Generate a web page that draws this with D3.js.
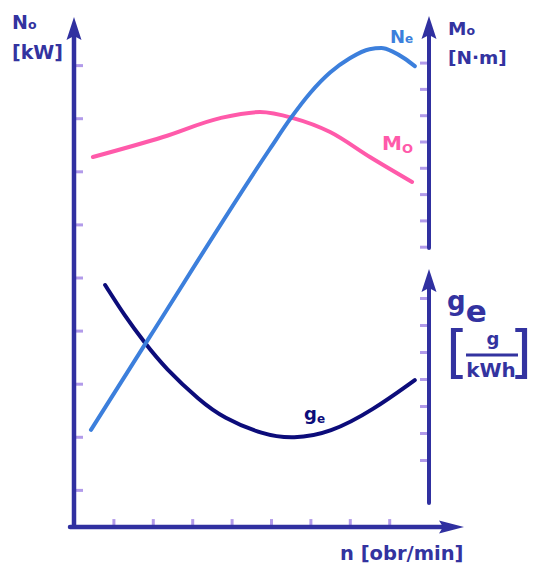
<!DOCTYPE html>
<html>
<head>
<meta charset="utf-8">
<script src="https://cdn.jsdelivr.net/npm/d3@7/dist/d3.min.js"></script>
<style>
  html, body { margin: 0; padding: 0; background: #fff; }
  svg { display: block; }
  text { font-family: "DejaVu Sans", Verdana, sans-serif; }
</style>
</head>
<body>
<svg id="chart" width="533" height="565"></svg>
<script>
// ---- data (scale units) ----
const nTicksX = [1, 2, 3, 4, 5, 6, 7, 8];
const powerTicks = [1, 2, 3, 4, 5, 6, 7, 8, 9];
const torqueTicks = [1, 2, 3, 4, 5, 6, 7, 8];
const fuelTicks = [2, 3, 4, 5, 6, 7, 8];

const neX = [0.43, 1.93, 4.97, 5.5, 6.0, 6.5, 7.0, 7.5, 7.8, 8.1, 8.4, 8.65];
const neY = [2.13, 3.89, 7.42, 8.0, 8.48, 8.86, 9.13, 9.30, 9.32, 9.25, 9.12, 8.98];

const moX = [0.48, 2.26, 3.71, 4.72, 5.56, 6.50, 7.51, 8.58];
const moY = [4.41, 5.17, 5.89, 6.12, 5.89, 5.36, 4.41, 3.46];

const geX = [0.79, 1.29, 1.80, 2.31, 3.20, 3.78, 4.80, 5.56, 6.50, 7.59, 8.65];
const geY = [8.48, 7.33, 6.33, 5.41, 4.19, 3.57, 2.93, 2.78, 3.00, 3.85, 4.96];

// ---- scales ----
const x = d3.scaleLinear().domain([0, 10]).range([74, 468]);
const yN = d3.scaleLinear().domain([0, 10]).range([543, 12]);
const yM = d3.scaleLinear().domain([0, 10]).range([273, 10]);
const yG = d3.scaleLinear().domain([0, 10]).range([514, 244]);

const AX = "#3030a0";
const TICK = "#a48ae6";
const svg = d3.select("#chart");

const rightX = 429;

function arrowUp(cx, tipY) {
  return `M${cx},${tipY} L${cx + 7.5},${tipY + 23} L${cx},${tipY + 19} L${cx - 7.5},${tipY + 23} Z`;
}
function arrowRight(tipX, cy) {
  return `M${tipX},${cy} L${tipX - 25},${cy - 6.5} L${tipX - 21},${cy} L${tipX - 25},${cy + 6.5} Z`;
}

// tick marks via d3 axes
const gl = svg.append("g").attr("transform", `translate(76,0)`)
  .call(d3.axisRight(yN).tickValues(powerTicks).tickSize(7).tickFormat(""));
const gx = svg.append("g").attr("transform", `translate(0,${yN(0.3) - 2})`)
  .call(d3.axisTop(x).tickValues(nTicksX).tickSize(6).tickFormat(""));
const gm = svg.append("g").attr("transform", `translate(${rightX - 2},0)`)
  .call(d3.axisLeft(yM).tickValues(torqueTicks).tickSize(7).tickFormat(""));
const gg = svg.append("g").attr("transform", `translate(${rightX - 2},0)`)
  .call(d3.axisLeft(yG).tickValues(fuelTicks).tickSize(7).tickFormat(""));
[gl, gx, gm, gg].forEach(g => {
  g.select(".domain").remove();
  g.selectAll(".tick line").attr("stroke", TICK).attr("stroke-width", 3).attr("stroke-opacity", 0.85);
});

const axisY0 = yN(0.3);
// left vertical axis
svg.append("line").attr("x1", 74).attr("x2", 74).attr("y1", axisY0).attr("y2", 30)
  .attr("stroke", AX).attr("stroke-width", 4.5);
svg.append("path").attr("d", arrowUp(74, 17)).attr("fill", AX);
// x axis
svg.append("line").attr("x1", 70).attr("x2", 450).attr("y1", axisY0).attr("y2", axisY0)
  .attr("stroke", AX).attr("stroke-width", 4.5).attr("stroke-linecap", "round");
svg.append("path").attr("d", arrowRight(464, axisY0)).attr("fill", AX);
// right upper axis
svg.append("line").attr("x1", rightX).attr("x2", rightX).attr("y1", yM(0.95)).attr("y2", 30)
  .attr("stroke", AX).attr("stroke-width", 4).attr("stroke-linecap", "round");
svg.append("path").attr("d", arrowUp(rightX, 16)).attr("fill", AX);
// right lower axis
svg.append("line").attr("x1", rightX).attr("x2", rightX).attr("y1", yG(0.41)).attr("y2", 282)
  .attr("stroke", AX).attr("stroke-width", 4).attr("stroke-linecap", "round");
svg.append("path").attr("d", arrowUp(rightX, 269)).attr("fill", AX);

// ---- curves ----
function curve(xs, ys, yScale, color, curveType) {
  const pts = xs.map((v, i) => [v, ys[i]]);
  const line = d3.line().x(d => x(d[0])).y(d => yScale(d[1])).curve(curveType);
  svg.append("path").attr("d", line(pts)).attr("fill", "none")
    .attr("stroke", color).attr("stroke-width", 4).attr("stroke-linecap", "round");
}
curve(moX, moY, yM, "#ff5aaa", d3.curveMonotoneX);
curve(geX, geY, yG, "#0c0c7a", d3.curveBasis);
curve(neX, neY, yN, "#3c7fdc", d3.curveMonotoneX);

// ---- labels ----
const TXT = "#3333a0";
function label(xp, yp, parts, color) {
  const t = svg.append("text").attr("x", xp).attr("y", yp).attr("fill", color)
    .attr("font-weight", "bold");
  parts.forEach(p => {
    const s = t.append("tspan").text(p.t).attr("font-size", p.s);
    if (p.dy) s.attr("dy", p.dy);
  });
  return t;
}
label(12, 29, [{t: "N", s: 19}, {t: "o", s: 12.5}], TXT);
label(12, 59, [{t: "[kW]", s: 19}], TXT);
label(448, 35, [{t: "M", s: 18.5}, {t: "o", s: 12.5}], TXT);
label(448, 64, [{t: "[N·m]", s: 18.5}], TXT);

label(390, 43, [{t: "N", s: 18}, {t: "e", s: 12}], "#3c7fdc");
label(382, 150, [{t: "M", s: 20}, {t: "O", s: 13, dy: 3}], "#ff5aaa");
label(304, 420, [{t: "g", s: 18}, {t: "e", s: 12, dy: 3}], "#0c0c7a");

// big g_e label on lower right axis
label(447, 310, [{t: "g", s: 26}, {t: "e", s: 31, dy: 12}], TXT);
// bracketed fraction g / kWh
svg.append("text").attr("x", 446).attr("y", 371).attr("font-size", 57)
  .attr("font-weight", "normal").attr("fill", TXT).text("[");
svg.append("text").attr("x", 532).attr("y", 371).attr("font-size", 57).attr("text-anchor", "end")
  .attr("font-weight", "normal").attr("fill", TXT).text("]");
svg.append("text").attr("x", 493).attr("y", 345).attr("font-size", 18).attr("text-anchor", "middle")
  .attr("font-weight", "bold").attr("fill", TXT).text("g");
svg.append("line").attr("x1", 466).attr("x2", 518).attr("y1", 355).attr("y2", 355)
  .attr("stroke", TXT).attr("stroke-width", 3);
svg.append("text").attr("x", 491).attr("y", 377).attr("font-size", 20).attr("text-anchor", "middle")
  .attr("font-weight", "bold").attr("fill", TXT).text("kWh");

label(340, 560, [{t: "n [obr/min]", s: 19.5}], TXT);
</script>
</body>
</html>
